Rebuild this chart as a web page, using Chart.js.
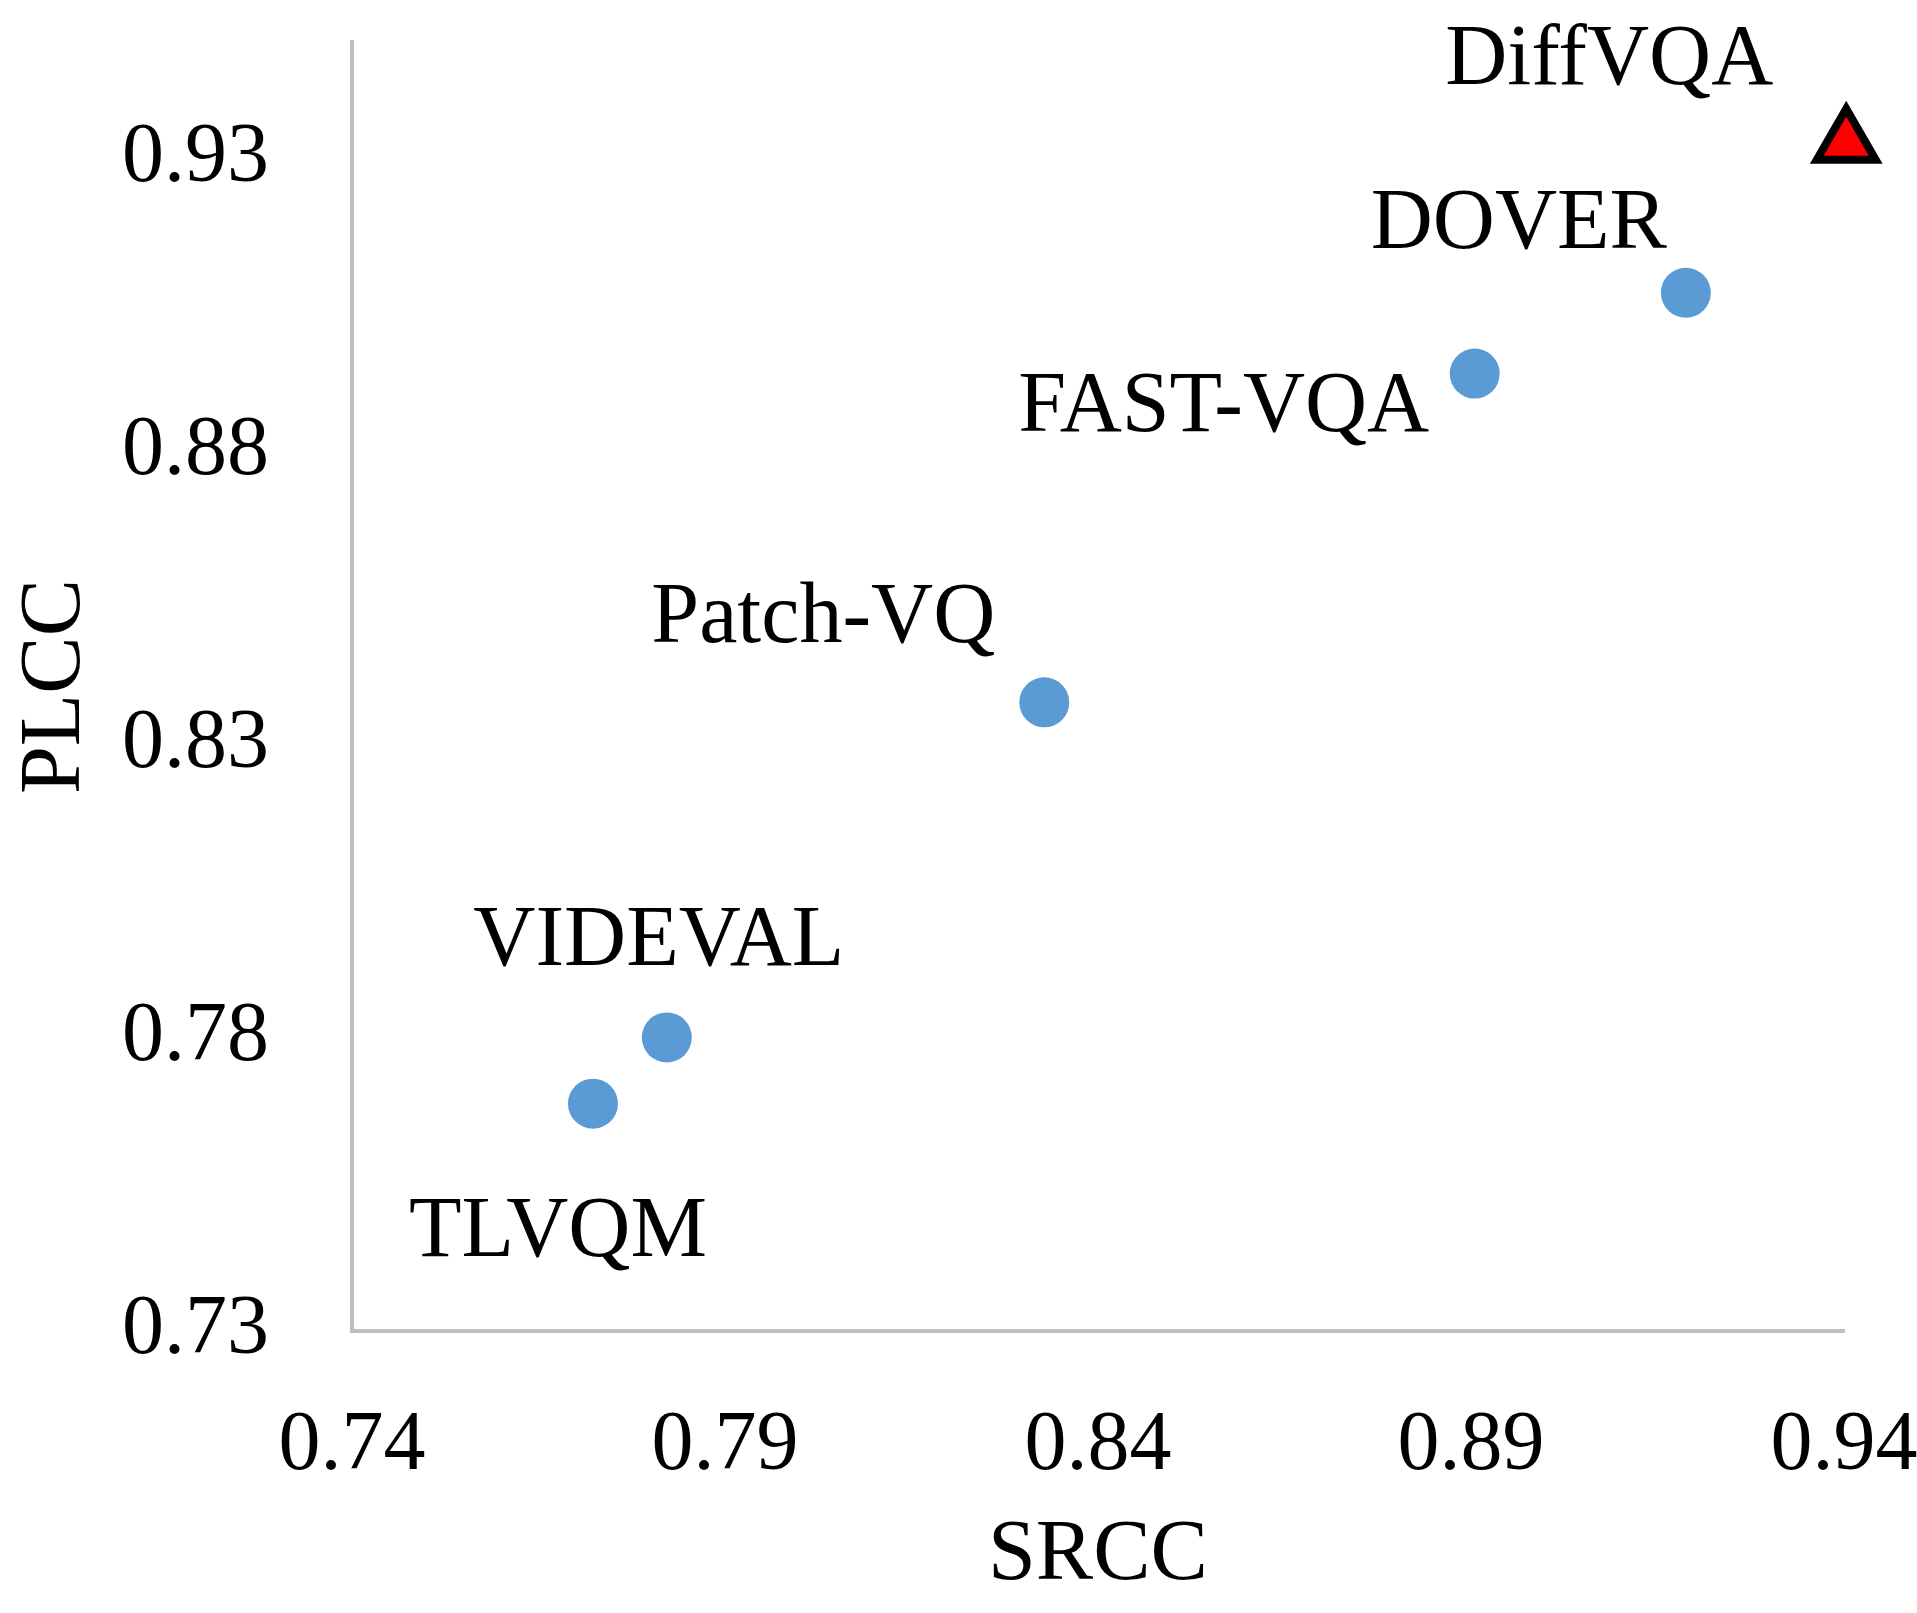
<!DOCTYPE html>
<html>
<head>
<meta charset="utf-8">
<script src="https://cdn.jsdelivr.net/npm/chart.js@4.4.1/dist/chart.umd.min.js"></script>
<style>
  html, body { margin: 0; padding: 0; background: #fff; }
  #chart { display: block; }
</style>
</head>
<body>
<canvas id="chart" width="1917" height="1613"></canvas>
<script>
// Values (SRCC on x, PLCC on y)
const methods = ['TLVQM', 'VIDEVAL', 'Patch-VQ', 'FAST-VQA', 'DOVER'];
const methodSrcc = [0.7723, 0.7822, 0.8328, 0.8905, 0.9188];
const methodPlcc = [0.7688, 0.7801, 0.8373, 0.8934, 0.9072];

const oursName = ['DiffVQA'];
const oursSrcc = [0.9403];
const oursPlcc = [0.9328];

const xTicks = [0.74, 0.79, 0.84, 0.89, 0.94];
const yTicks = [0.73, 0.78, 0.83, 0.88, 0.93];

// where each name sits relative to its marker (px: dx to text centre, dy to baseline)
const labelOffsets = {
    'TLVQM': [-35, 152],
    'VIDEVAL': [-8, -72],
    'Patch-VQ': [-221, -60],
    'FAST-VQA': [-251, 57],
    'DOVER': [-167, -45],
    'DiffVQA': [-237, -59]
};

const SERIF = "'Liberation Serif', 'Times New Roman', serif";
Chart.defaults.color = '#000';
Chart.defaults.font.family = SERIF;

// draw the method names next to their markers
const nameLabels = {
    id: 'nameLabels',
    afterDatasetsDraw(chart) {
        const ctx = chart.ctx;
        ctx.save();
        ctx.font = '86px ' + SERIF;
        ctx.fillStyle = '#000';
        ctx.textAlign = 'center';
        ctx.textBaseline = 'alphabetic';
        chart.data.datasets.forEach((ds, di) => {
            const meta = chart.getDatasetMeta(di);
            meta.data.forEach((pt, i) => {
                const name = ds.names[i];
                const off = labelOffsets[name] || [0, 0];
                ctx.fillText(name, pt.x + off[0], pt.y + off[1]);
            });
        });
        ctx.restore();
    }
};

const canvas = document.getElementById('chart');

new Chart(canvas, {
    type: 'scatter',
    data: {
        datasets: [
            {
                label: 'Others',
                names: methods,
                data: methods.map((m, i) => ({ x: methodSrcc[i], y: methodPlcc[i] })),
                backgroundColor: '#5b9bd5',
                borderWidth: 0,
                pointRadius: 25,
                pointHoverRadius: 25,
                clip: false
            },
            {
                label: 'Ours',
                names: oursName,
                data: oursName.map((m, i) => ({ x: oursSrcc[i], y: oursPlcc[i] })),
                pointStyle: 'triangle',
                backgroundColor: '#ff0000',
                borderColor: '#000',
                borderWidth: 8,
                pointRadius: 34,
                pointHoverRadius: 34,
                clip: false
            }
        ]
    },
    options: {
        responsive: false,
        animation: false,
        events: [],
        layout: { padding: { left: 0, top: 40, right: 73, bottom: 0 } },
        plugins: {
            legend: { display: false },
            tooltip: { enabled: false }
        },
        scales: {
            x: {
                type: 'linear',
                min: 0.74,
                max: 0.94,
                afterBuildTicks: s => { s.ticks = xTicks.map(v => ({ value: v })); },
                afterFit: s => { s.height = 282; s.paddingLeft = 0; s.paddingRight = 0; },
                grid: { display: false, drawTicks: false },
                border: { display: true, color: '#bfbfbf', width: 4 },
                ticks: {
                    padding: 66,
                    maxRotation: 0,
                    autoSkip: false,
                    font: { size: 84, family: SERIF },
                    callback: v => v.toFixed(2)
                },
                title: {
                    display: true,
                    text: 'SRCC',
                    font: { size: 86, family: SERIF },
                    padding: { top: 0, bottom: 5 }
                }
            },
            y: {
                type: 'linear',
                min: 0.73,
                max: 0.95,
                afterBuildTicks: s => { s.ticks = yTicks.map(v => ({ value: v })); },
                afterFit: s => { s.width = 352; s.paddingTop = 0; s.paddingBottom = 0; },
                grid: { display: false, drawTicks: false },
                border: { display: true, color: '#bfbfbf', width: 4 },
                ticks: {
                    padding: 83,
                    autoSkip: false,
                    font: { size: 84, family: SERIF },
                    callback: v => v.toFixed(2)
                },
                title: {
                    display: true,
                    text: 'PLCC',
                    font: { size: 86, family: SERIF },
                    padding: { top: 5, bottom: 0 }
                }
            }
        }
    },
    plugins: [nameLabels]
});
</script>
</body>
</html>
